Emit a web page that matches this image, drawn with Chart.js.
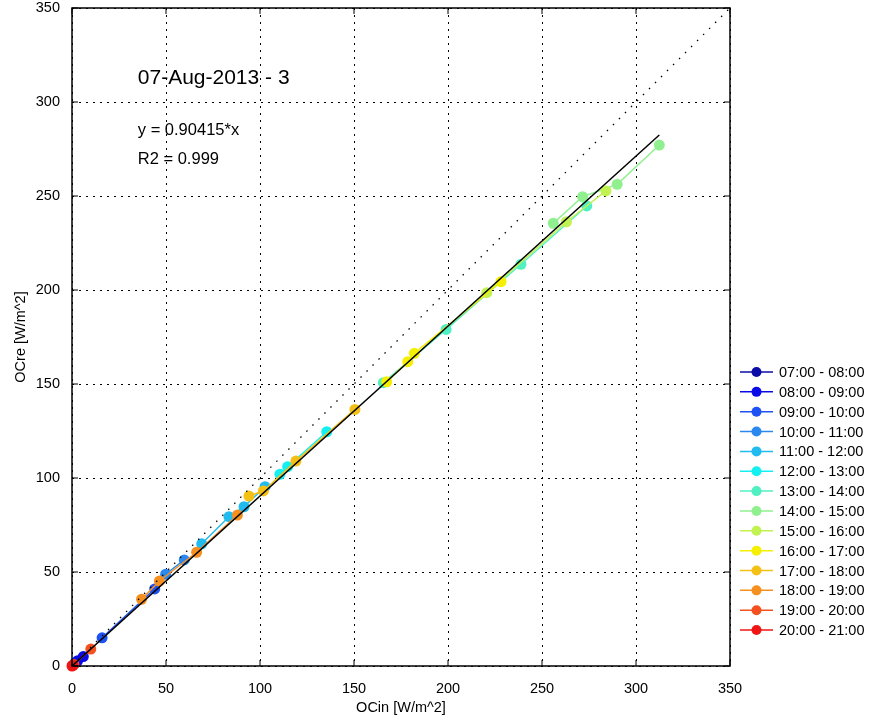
<!DOCTYPE html>
<html>
<head>
<meta charset="utf-8">
<script src="https://cdn.jsdelivr.net/npm/chart.js@4/dist/chart.umd.min.js"></script>
<style>
  html, body { margin: 0; padding: 0; background: #fff; }
  #wrap { width: 869px; height: 721px; }
</style>
</head>
<body>
<div id="wrap"><canvas id="chart"></canvas></div>
<script>
// часовые интервалы и их цвета
const hours = ['07:00 - 08:00', '08:00 - 09:00', '09:00 - 10:00', '10:00 - 11:00',
  '11:00 - 12:00', '12:00 - 13:00', '13:00 - 14:00', '14:00 - 15:00', '15:00 - 16:00',
  '16:00 - 17:00', '17:00 - 18:00', '18:00 - 19:00', '19:00 - 20:00', '20:00 - 21:00'];
const colors = ['#0c0ca6', '#0a0ae8', '#1e52f2', '#2a88f0', '#22bbf0', '#14f0f0', '#50f0c2',
  '#90f090', '#c2f252', '#f5f000', '#f5c015', '#f59020', '#f55020', '#f01515'];

// OCin по часам
const ocIn = [
  [0.3, 1.5],
  [3, 6],
  [16, 44],
  [49.8, 59.7],
  [69, 83.5, 91.5, 102.7],
  [110.6, 114.7, 135.5],
  [165.6, 199, 238.8, 273.8],
  [256, 271.6, 290, 312.4],
  [220.6, 263, 284],
  [167.4, 178.6, 182.1, 228.2],
  [94.1, 101.8, 119.1, 150.5],
  [37, 46.5, 66.3, 88],
  [1, 10],
  [0, 0.5]
];
// OCre по часам
const ocRe = [
  [0.3, 1.4],
  [2.8, 5],
  [15, 41],
  [48.8, 56.4],
  [65, 79.4, 84.7, 95.4],
  [102, 106, 124.6],
  [150.7, 179, 213.7, 244.7],
  [235.5, 249.6, 256.2, 277.1],
  [198.6, 236.3, 252.7],
  [151.2, 161.9, 166.3, 204.4],
  [90.4, 93.1, 109, 136.5],
  [35.5, 45.2, 60.5, 80.3],
  [0.8, 9],
  [0, 0.4]
];

const slope = 0.90415;
const r2 = 0.999;
const fitMaxX = 312.4;
const axisTicks = [0, 50, 100, 150, 200, 250, 300, 350];

const FONT = 'Liberation Sans, Arial, Helvetica, sans-serif';

const datasets = hours.map((h, i) => ({
  label: h,
  data: ocIn[i].map((x, j) => ({ x: x, y: ocRe[i][j] })),
  showLine: true,
  borderColor: colors[i],
  backgroundColor: colors[i],
  borderWidth: 1.5,
  pointRadius: 5.5,
  pointBorderWidth: 0,
  pointHoverRadius: 5.5,
  clip: false,
  order: 100 - i
}));

// линия регрессии y = k*x
datasets.push({
  label: 'fit',
  data: [{ x: 0, y: 0 }, { x: fitMaxX, y: slope * fitMaxX }],
  showLine: true,
  borderColor: '#000',
  borderWidth: 1.5,
  pointRadius: 0,
  order: 1
});
// диагональ y = x
datasets.push({
  label: 'diag',
  data: [{ x: 0, y: 0 }, { x: 350, y: 350 }],
  showLine: true,
  borderColor: '#000',
  borderWidth: 1.3,
  borderDash: [1.5, 7],
  pointRadius: 0,
  order: 0
});

// рамка, внутренние риски, надписи и легенда
const decorPlugin = {
  id: 'decor',
  afterDraw(chart) {
    const ctx = chart.ctx;
    const a = chart.chartArea;
    const xs = chart.scales.x, ys = chart.scales.y;
    ctx.save();
    ctx.strokeStyle = '#000';
    ctx.lineWidth = 1.5;
    ctx.strokeRect(a.left, a.top, a.right - a.left, a.bottom - a.top);
    ctx.lineWidth = 1;
    ctx.beginPath();
    axisTicks.forEach(v => {
      const px = xs.getPixelForValue(v), py = ys.getPixelForValue(v);
      ctx.moveTo(px, a.bottom); ctx.lineTo(px, a.bottom - 6);
      ctx.moveTo(px, a.top); ctx.lineTo(px, a.top + 6);
      ctx.moveTo(a.left, py); ctx.lineTo(a.left + 6, py);
      ctx.moveTo(a.right, py); ctx.lineTo(a.right - 6, py);
    });
    ctx.stroke();

    ctx.fillStyle = '#000';
    ctx.textAlign = 'left';
    ctx.textBaseline = 'middle';
    ctx.font = '21px ' + FONT;
    ctx.fillText('07-Aug-2013 - 3', xs.getPixelForValue(35), ys.getPixelForValue(312.8));
    ctx.font = '16.5px ' + FONT;
    ctx.fillText('y = ' + slope + '*x', xs.getPixelForValue(35), ys.getPixelForValue(284.6));
    ctx.fillText('R2 = ' + r2, xs.getPixelForValue(35), ys.getPixelForValue(269.2));

    // легенда справа от графика
    const lx = a.right + 10, top = 372, step = 19.85;
    ctx.font = '14.5px ' + FONT;
    hours.forEach((h, i) => {
      const y = top + i * step;
      ctx.strokeStyle = colors[i];
      ctx.lineWidth = 1.5;
      ctx.beginPath();
      ctx.moveTo(lx, y); ctx.lineTo(lx + 33, y);
      ctx.stroke();
      ctx.fillStyle = colors[i];
      ctx.beginPath();
      ctx.arc(lx + 16.5, y, 5, 0, Math.PI * 2);
      ctx.fill();
      ctx.fillStyle = '#000';
      ctx.fillText(h, lx + 39, y + 1);
    });
    ctx.restore();
  }
};

const axisCommon = {
  type: 'linear',
  min: 0,
  max: 350,
  afterBuildTicks: s => { s.ticks = axisTicks.map(v => ({ value: v })); },
  grid: { color: '#000', lineWidth: 1, drawTicks: false },
  border: { display: false, dash: [2, 5] }
};

new Chart(document.getElementById('chart'), {
  type: 'scatter',
  data: { datasets: datasets },
  options: {
    responsive: true,
    maintainAspectRatio: false,
    animation: false,
    layout: { padding: { left: 0, top: 8, right: 139, bottom: 0 } },
    plugins: { legend: { display: false }, tooltip: { enabled: false } },
    scales: {
      x: Object.assign({}, axisCommon, {
        position: 'bottom',
        afterFit: s => { s.height = 55; s.paddingLeft = 0; s.paddingRight = 0; },
        ticks: { color: '#000', padding: 14, maxRotation: 0, font: { family: FONT, size: 14.5 } },
        title: { display: true, text: 'OCin [W/m^2]', color: '#000',
          font: { family: FONT, size: 14.5 }, padding: { top: 0, bottom: 4 } }
      }),
      y: Object.assign({}, axisCommon, {
        position: 'left',
        afterFit: s => { s.width = 72; s.paddingTop = 0; s.paddingBottom = 0; },
        ticks: { color: '#000', padding: 12, font: { family: FONT, size: 14.5 } },
        title: { display: true, text: 'OCre [W/m^2]', color: '#000',
          font: { family: FONT, size: 14.5 }, padding: { top: 12, bottom: 0 } }
      })
    }
  },
  plugins: [decorPlugin]
});
</script>
</body>
</html>
